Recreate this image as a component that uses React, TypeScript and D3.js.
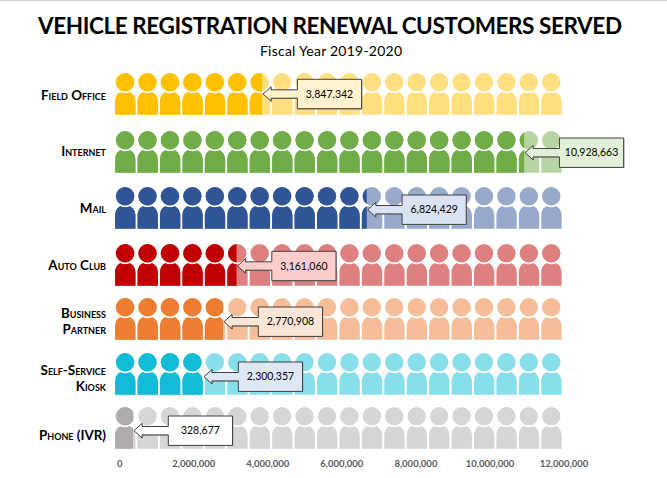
import * as d3 from "d3"

const categories = ["Field Office", "Internet", "Mail", "Auto Club", "Business Partner", "Self-Service Kiosk", "Phone (IVR)"]
const labelLines = [["Field Office"], ["Internet"], ["Mail"], ["Auto Club"], ["Business", "Partner"], ["Self-Service", "Kiosk"], ["Phone (IVR)"]]
const printedValues = [3847342, 10928663, 6824429, 3161060, 2770908, 2300357, 328677]
// how far the dark icons actually run in the picture, a bit off from the printed numbers
const filledValues = [3940000, 10950000, 6740000, 3256000, 2895000, 2360000, 487000]
const axisTicks = [0, 2000000, 4000000, 6000000, 8000000, 10000000, 12000000]
const darkColors = ["#FFC000", "#70AD47", "#2F5597", "#C00000", "#ED7D31", "#12BCD6", "#AFABAB"]
const lightColors = ["#FFDF80", "#B7D6A3", "#97AACB", "#DF8080", "#F6BE98", "#88DEEB", "#D7D5D5"]
const calloutColors = ["#FFF2CC", "#E2F0D9", "#DAE3F3", "#FFCCCC", "#FBE5D6", "#DEE8F5", "#FFFFFF"]

const unitSize = 600000
const maxValue = 12000000
const rowTops = [73, 131, 187, 244, 298, 353, 407]
const calloutDrops = [21, 21.7, 22.7, 22, 23.7, 23.7, 23.7]

const x = d3.scaleLinear().domain([0, maxValue]).range([114.8, 563.4])
const xTick = d3.scaleLinear().domain([0, maxValue]).range([119.7, 564])
const rowTop = d3.scaleOrdinal<string, number>().domain(categories).range(rowTops)
const labelY = d3.scalePoint().domain(categories).range([95, 435])
const units = d3.range(0, maxValue, unitSize)
const fmt = d3.format(",")

const headPath = () => {
  const p = d3.path()
  p.arc(10.3, 9.3, 9.2, 0, Math.PI * 2)
  p.closePath()
  return p.toString()
}

const bodyPath = () => {
  const p = d3.path()
  p.moveTo(0.3, 41.7)
  p.lineTo(0.3, 29)
  p.bezierCurveTo(0.3, 24, 2.5, 20, 5.6, 19.2)
  p.arc(10.3, 9.3, 10.9, 2.01, 1.13, true)
  p.bezierCurveTo(18.1, 20, 20.7, 24, 20.7, 29)
  p.lineTo(20.7, 41.7)
  p.closePath()
  return p.toString()
}

const calloutPath = () => {
  const p = d3.path()
  p.moveTo(0, 0)
  p.lineTo(8, -7.3)
  p.lineTo(8, -4.2)
  p.lineTo(34.3, -4.2)
  p.lineTo(34.3, -14.7)
  p.lineTo(98.5, -14.7)
  p.lineTo(98.5, 14.7)
  p.lineTo(34.3, 14.7)
  p.lineTo(34.3, 4.2)
  p.lineTo(8, 4.2)
  p.lineTo(8, 7.3)
  p.closePath()
  return p.toString()
}

const People = ({ top, color }: { top: number; color: string }) => (
  <g fill={color}>
    {units.map((u) => (
      <g key={u} transform={`translate(${x(u)},${top})`}>
        <path d={headPath()} />
        <path d={bodyPath()} />
      </g>
    ))}
  </g>
)

export default function App() {
  const font = "Lato, 'Open Sans', sans-serif"
  return (
    <svg width={667} height={478} style={{ position: "absolute", left: 0, top: 0, background: "#fff" }} fontFamily={font}>
      <rect x={0} y={0} width={667} height={1} fill="#D0D0D0" />

      <text x={330} y={34} textAnchor="middle" fontSize={22.5} fontWeight={700} textLength={584} lengthAdjust="spacing" fill="#000">
        VEHICLE REGISTRATION RENEWAL CUSTOMERS SERVED
      </text>
      <text x={331} y={56} textAnchor="middle" fontSize={14} textLength={142} lengthAdjust="spacing" fill="#000">
        Fiscal Year 2019-2020
      </text>

      {categories.map((c, i) => {
        const top = rowTop(c)
        return (
          <g key={c}>
            <clipPath id={`fill-${i}`}>
              <rect x={x(0) - 2} y={top - 2} width={x(filledValues[i]) - x(0) + 2} height={46} />
            </clipPath>
            <People top={top} color={lightColors[i]} />
            <g clipPath={`url(#fill-${i})`}>
              <People top={top} color={darkColors[i]} />
            </g>
          </g>
        )
      })}

      {categories.map((c, i) => {
        const tipX = x(filledValues[i]) + 1
        const tipY = rowTop(c) + calloutDrops[i]
        return (
          <g key={c} transform={`translate(${tipX},${tipY})`}>
            <path d={calloutPath()} transform="translate(0.7,0.7)" fill="#909090" />
            <path d={calloutPath()} fill={calloutColors[i]} stroke="#404040" strokeWidth={1} />
            <text x={66.4} y={3.6} textAnchor="middle" fontSize={10.5} fill="#000">
              {fmt(printedValues[i])}
            </text>
          </g>
        )
      })}

      {categories.map((c, i) => {
        const lines = labelLines[i]
        const mid = labelY(c) as number
        return (
          <text key={c} textAnchor="end" fontSize={13.4} fontWeight={700} fill="#000" style={{ fontVariant: "small-caps" }}>
            {lines.map((l, j) => (
              <tspan key={l} x={106} y={mid + 4.5 + (j - (lines.length - 1) / 2) * 16.5}>
                {l}
              </tspan>
            ))}
          </text>
        )
      })}

      {axisTicks.map((t) => (
        <text key={t} x={xTick(t)} y={467} textAnchor="middle" fontSize={9.5} fontWeight={700} fill="#595959">
          {fmt(t)}
        </text>
      ))}
    </svg>
  )
}
